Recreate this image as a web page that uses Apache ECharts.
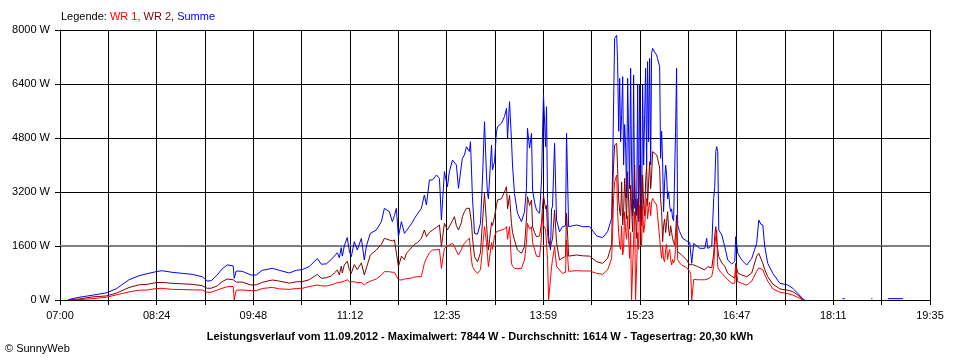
<!DOCTYPE html>
<html><head><meta charset="utf-8">
<script src="https://cdn.jsdelivr.net/npm/echarts@6/dist/echarts.min.js"></script>
<style>html,body{margin:0;padding:0;background:#fff}#c{width:960px;height:360px}</style>
</head><body><div id="c"></div>
<script>
// x tick labels (every second grid line)
const tickLabels = ["07:00","08:24","09:48","11:12","12:35","13:59","15:23","16:47","18:11","19:35"];
// time of each reading, minutes after 07:00
const times = [
7.0, 9.5, 16.5, 27.8, 40.0, 48.7, 59.9, 68.6, 75.6, 83.4,
88.6, 97.3, 106.0, 114.7, 123.4, 127.7, 131.2, 136.4, 140.7, 145.1,
150.3, 151.2, 152.0, 152.9, 158.1, 165.9, 170.3, 175.5, 184.2, 190.3,
199.0, 205.0, 210.2, 216.3, 223.3, 226.8, 231.1, 235.4, 238.0, 240.7,
242.4, 244.1, 245.0, 246.7, 249.3, 251.1, 252.8, 255.4, 258.0, 261.5,
264.1, 265.9, 269.3, 274.5, 278.9, 281.5, 285.8, 288.4, 290.2, 291.9,
293.7, 296.3, 298.9, 300.6, 303.2, 305.8, 307.6, 310.2, 313.6, 316.2,
318.0, 320.6, 323.2, 326.7, 329.3, 331.0, 333.6, 336.2, 337.9, 340.6,
342.3, 344.0, 345.8, 348.4, 349.2, 351.0, 352.7, 353.6, 355.3, 356.2,
357.1, 357.9, 359.7, 362.3, 364.9, 366.6, 368.4, 370.1, 371.0, 371.8,
374.5, 375.3, 377.1, 378.8, 379.7, 383.1, 385.7, 387.5, 388.4, 390.1,
391.8, 392.7, 394.4, 397.0, 400.5, 403.1, 404.8, 405.7, 407.5, 409.2,
410.1, 411.8, 413.5, 416.2, 417.9, 418.8, 419.6, 421.4, 422.2, 423.1,
424.0, 425.7, 426.6, 427.4, 429.2, 430.9, 433.5, 436.1, 438.7, 439.6,
441.4, 442.2, 448.3, 453.5, 459.6, 465.7, 470.9, 475.2, 478.7, 479.6,
480.4, 481.3, 483.1, 483.9, 484.8, 485.7, 486.5, 487.4, 488.3, 489.1,
490.0, 490.9, 491.7, 492.6, 494.3, 495.2, 496.0, 496.9, 497.8, 498.7,
499.5, 500.4, 501.3, 502.1, 503.0, 504.7, 505.6, 506.5, 507.4, 508.2,
509.1, 509.9, 510.8, 511.7, 512.6, 513.4, 514.3, 515.2, 516.0, 517.8,
518.6, 520.4, 521.2, 522.1, 523.0, 523.8, 524.7, 525.6, 526.4, 527.3,
528.2, 529.1, 529.9, 530.8, 531.6, 532.5, 533.4, 534.2, 535.1, 536.0,
537.7, 539.4, 540.3, 543.9, 546.5, 547.4, 548.2, 549.1, 550.0, 553.4,
555.2, 559.5, 561.2, 562.1, 565.6, 567.3, 568.2, 569.1, 569.9, 570.8,
571.7, 574.3, 576.9, 579.5, 583.0, 585.6, 586.4, 588.2, 591.6, 596.0,
600.3, 604.6, 606.4, 608.1, 609.9, 611.6, 614.2, 618.6, 624.7, 631.6,
636.0, 640.3, 644.7, 646.4, 678.5, 679.0, 681.0, 681.5, 704.0, 705.0,
705.5, 718.5, 731.5
];
// WR 1 (W)
const wr1 = [
0, 0, 10, 40, 80, 150, 240, 290, 296, 340,
346, 316, 310, 300, 296, 227, 230, 296, 346, 395,
400, 0, 0, 290, 296, 277, 280, 340, 375, 330,
316, 340, 346, 400, 444, 420, 415, 450, 480, 513,
494, 530, 520, 560, 600, 543, 520, 540, 513, 520,
444, 500, 560, 620, 740, 839, 839, 820, 820, 810,
600, 593, 620, 625, 640, 660, 680, 690, 691, 1086,
1234, 1400, 1481, 1490, 1500, 938, 1531, 1600, 1650, 1679,
1600, 1450, 1333, 1500, 1580, 1679, 1750, 1760, 1827, 1778,
1185, 1000, 889, 790, 900, 1500, 2173, 1700, 1300, 988,
1700, 1500, 1900, 2025, 2050, 2074, 2100, 2173, 1800, 2173,
1086, 1000, 938, 930, 938, 1185, 1700, 2272, 2100, 2173,
1700, 1500, 1300, 1284, 1900, 2568, 2200, 2100, 2074, 1200,
0, 0, 988, 1200, 1580, 1000, 889, 790, 815, 1778,
850, 869, 869, 860, 860, 790, 760, 889, 1234, 2000,
3012, 3500, 3704, 2617, 2000, 1630, 1500, 2200, 1333, 1500,
2617, 2000, 1800, 2500, 1234, 2000, 0, 0, 1800, 2617,
0, 0, 2000, 1500, 2815, 1600, 2800, 2000, 2200, 2700,
3012, 2400, 2700, 2900, 2500, 2900, 3012, 2950, 2900, 2815,
2500, 1827, 1500, 1234, 1600, 1200, 1135, 1500, 1650, 1200,
1400, 1500, 1200, 1037, 1200, 1100, 1200, 1500, 2222, 1200,
1100, 1037, 1000, 957, 840, 760, 0, 0, 612, 600,
600, 600, 610, 620, 700, 1000, 1580, 1900, 2074, 988,
900, 790, 700, 600, 494, 500, 988, 543, 494, 440,
560, 850, 950, 988, 900, 750, 560, 330, 230, 190,
148, 79, 0, null, null, null, null, null, null, null,
null, null, null
];
// WR 2 (W)
const wr2 = [
0, 10, 30, 90, 120, 200, 370, 450, 464, 515,
523, 494, 480, 464, 424, 346, 350, 415, 543, 622,
600, 600, 560, 530, 530, 444, 450, 523, 593, 560,
500, 540, 543, 600, 760, 642, 660, 711, 800, 889,
741, 1000, 800, 1037, 1150, 900, 790, 1050, 900, 1100,
741, 950, 1333, 1481, 1650, 1827, 1778, 1750, 1780, 1780,
988, 1300, 1200, 1383, 1480, 1580, 1650, 1700, 1827, 2074,
1877, 2000, 2074, 2150, 2222, 1580, 2272, 2074, 2074, 2350,
2469, 2200, 2074, 2300, 2469, 2617, 2716, 2700, 2716, 2700,
2300, 1877, 1284, 1135, 1400, 2300, 3160, 2272, 1800, 1480,
2300, 2200, 2469, 2800, 2963, 3000, 3200, 3358, 2700, 3100,
2272, 2000, 1778, 1481, 1383, 1580, 2400, 3062, 2800, 2963,
2173, 2000, 1877, 1900, 2300, 2800, 3100, 2700, 2800, 2000,
1679, 1600, 1650, 1800, 2667, 1700, 1185, 1250, 1284, 2568,
1300, 1300, 1333, 1310, 1300, 1135, 1086, 1234, 1630, 3210,
4000, 4593, 4642, 3901, 3000, 2617, 2500, 3500, 2222, 2600,
3605, 3000, 2400, 3802, 2100, 3400, 3407, 2025, 3000, 4000,
2500, 1827, 3000, 2500, 4000, 2200, 3704, 2800, 2500, 3500,
4000, 2800, 3500, 4099, 3300, 3700, 4395, 4444, 4444, 4300,
4197, 3901, 3000, 2617, 1728, 2200, 2400, 2000, 2300, 2617,
2100, 1900, 2200, 2000, 1827, 1700, 1630, 2000, 2519, 1432,
1380, 1333, 1300, 1185, 1037, 1050, 1086, 1050, 1000, 988,
960, 889, 920, 988, 950, 1383, 1900, 2173, 1778, 1500,
1284, 1100, 1000, 790, 700, 650, 1086, 800, 741, 691,
800, 1300, 1383, 1383, 1086, 900, 691, 470, 330, 290,
247, 148, 0, null, null, null, null, null, null, null,
null, null, null
];
// Summe (W)
const summe = [
0, 30, 80, 140, 210, 330, 600, 720, 780, 840,
868, 820, 790, 760, 690, 563, 570, 740, 920, 1040,
1010, 640, 600, 860, 850, 740, 741, 880, 940, 880,
800, 880, 900, 990, 1230, 1060, 1070, 1200, 1300, 1400,
1250, 1550, 1300, 1600, 1850, 1450, 1284, 1728, 1481, 1827,
1185, 1600, 1975, 2074, 2321, 2716, 2617, 2321, 2500, 2716,
1877, 2321, 1975, 2050, 2173, 2300, 2420, 2550, 2716, 3111,
2815, 3556, 3556, 3704, 3605, 2370, 3802, 3358, 3800, 4148,
4100, 4000, 3309, 4000, 4197, 4300, 4543, 4593, 4400, 4691,
3852, 3062, 1975, 1950, 2272, 3556, 5284, 3700, 3160, 3000,
4593, 3852, 4100, 4987, 5136, 5235, 5432, 5679, 4790, 5876,
4741, 4000, 3160, 2568, 2321, 2617, 3300, 5087, 4500, 4938,
3259, 2900, 2667, 2568, 3556, 5000, 6074, 4543, 5728, 3000,
1877, 1481, 2700, 2765, 4642, 2370, 2025, 2173, 2200, 4938,
2173, 2173, 2222, 2173, 2173, 1900, 1847, 2025, 2420, 3901,
5778, 7753, 7844, 7062, 5000, 6568, 4691, 5500, 6617, 4000,
5200, 4500, 3012, 6568, 3300, 6864, 4000, 2500, 6667, 2716,
3000, 2500, 6370, 2321, 6370, 2300, 6370, 4000, 5500, 6864,
4000, 7062, 4691, 7160, 4000, 7309, 7457, 7400, 7350, 7259,
7150, 6913, 4197, 5000, 4000, 2617, 3500, 4000, 3700, 3000,
3210, 2800, 2617, 2700, 2420, 2350, 2300, 5000, 6864, 2222,
2025, 1900, 1827, 1750, 1700, 1700, 1086, 1100, 1679, 1580,
1531, 1531, 1827, 1531, 1600, 3012, 3358, 4400, 4543, 4395,
2074, 1926, 1580, 1185, 1067, 1150, 1877, 1383, 1185, 1037,
1234, 1679, 2370, 2250, 2222, 1580, 1086, 790, 494, 444,
346, 197, 30, 0, null, 40, 40, null, 40, 40,
null, 40, 40
];
const average = 1614;
const yTicks = [0, 1600, 3200, 4800, 6400, 8000];
const footer = "Leistungsverlauf vom 11.09.2012 - Maximalwert: 7844 W - Durchschnitt: 1614 W - Tagesertrag: 20,30 kWh";

const STEP = 755 / 18; // minutes per grid column (07:00 .. 19:35)
const FONT = "'Liberation Sans', Arial, sans-serif";
const toPts = arr => times.map((t, i) => [t / STEP, arr[i]]);
// the grid line next to the average is drawn in the average's grey
const splitColors = yTicks.map(v => Math.abs(v - average) < 100 ? '#808080' : '#000');

const chart = echarts.init(document.getElementById('c'), null, {renderer: 'canvas'});
chart.setOption({
  animation: false,
  backgroundColor: '#fff',
  grid: {left: 60, top: 30, width: 870, height: 270, containLabel: false},
  xAxis: {
    type: 'value', min: 0, max: 18, interval: 1,
    axisLine: {show: true, lineStyle: {color: '#000', width: 1}},
    axisTick: {show: true, length: 5, lineStyle: {color: '#000'}},
    axisLabel: {
      margin: 10, color: '#000', fontSize: 11, fontFamily: FONT,
      showMinLabel: true, showMaxLabel: true,
      formatter: v => { const k = Math.round(v); return k % 2 === 0 ? tickLabels[k / 2] : ''; }
    },
    splitLine: {show: true, lineStyle: {color: '#000', width: 1}}
  },
  yAxis: {
    type: 'value', min: yTicks[0], max: yTicks[yTicks.length - 1], interval: yTicks[1] - yTicks[0],
    axisLine: {show: true, lineStyle: {color: '#000', width: 1}},
    axisTick: {show: true, length: 5, lineStyle: {color: '#000'}},
    axisLabel: {margin: 10, color: '#000', fontSize: 11, fontFamily: FONT, formatter: v => v + ' W'},
    splitLine: {show: true, lineStyle: {color: splitColors, width: 1}}
  },
  graphic: [
    {type: 'text', left: 61, top: 11, style: {
      text: '{k|Legende: }{a|WR 1, }{b|WR 2, }{c|Summe}',
      fontSize: 11, fontFamily: FONT,
      rich: {
        k: {fill: '#000', fontSize: 11, fontFamily: FONT},
        a: {fill: '#ff0000', fontSize: 11, fontFamily: FONT},
        b: {fill: '#800000', fontSize: 11, fontFamily: FONT},
        c: {fill: '#0000ff', fontSize: 11, fontFamily: FONT}
      }}},
    {type: 'text', left: 'center', top: 331, style: {text: footer, fill: '#000', fontSize: 11, fontWeight: 'bold', fontFamily: FONT}},
    {type: 'text', left: 5, top: 343, style: {text: '\u00A9 SunnyWeb', fill: '#000', fontSize: 11, fontFamily: FONT}}
  ],
  series: [
    {type: 'line', data: [[0, average], [18, average]], symbol: 'none', silent: true,
     lineStyle: {color: '#808080', width: 1}},
    {name: 'Summe', type: 'line', data: toPts(summe), showSymbol: false, symbol: 'none',
     connectNulls: false, lineStyle: {color: '#0000ff', width: 1}},
    {name: 'WR 2', type: 'line', data: toPts(wr2), showSymbol: false, symbol: 'none',
     connectNulls: false, lineStyle: {color: '#800000', width: 1}},
    {name: 'WR 1', type: 'line', data: toPts(wr1), showSymbol: false, symbol: 'none',
     connectNulls: false, lineStyle: {color: '#ff0000', width: 1}}
  ]
});
</script>
</body></html>
